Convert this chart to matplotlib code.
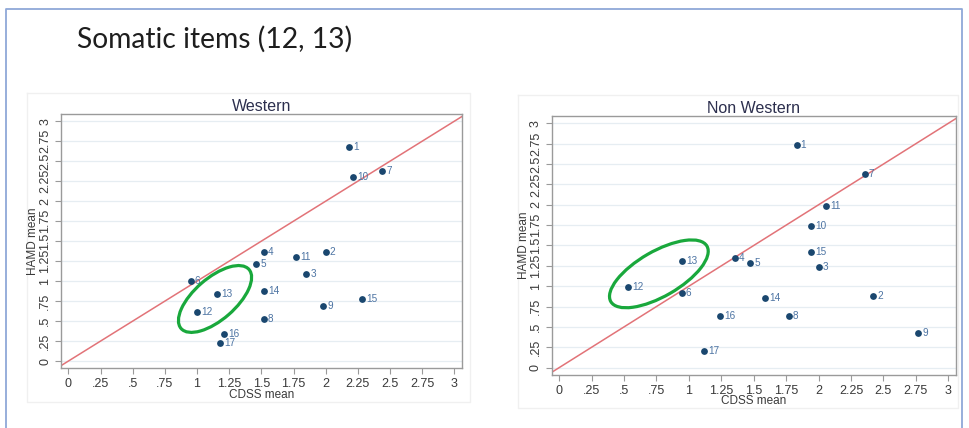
import matplotlib
matplotlib.use("Agg")
import matplotlib.pyplot as plt
from matplotlib.patches import Ellipse
from matplotlib.transforms import ScaledTranslation

# item numbers and mean scores
items = list(range(1, 18))
western_cdss = [2.18, 2.00, 1.85, 1.52, 1.46, 0.95, 2.44, 1.52, 1.98,
                2.21, 1.77, 1.00, 1.155, 1.52, 2.285, 1.21, 1.18]
western_hamd = [2.68, 1.36, 1.09, 1.36, 1.22, 1.00, 2.38, 0.53, 0.685,
                2.30, 1.30, 0.61, 0.84, 0.88, 0.78, 0.34, 0.23]
nonwest_cdss = [1.83, 2.42, 2.00, 1.355, 1.475, 0.945, 2.355, 1.77, 2.77,
                1.945, 2.06, 0.53, 0.945, 1.59, 1.945, 1.24, 1.12]
nonwest_hamd = [2.74, 0.88, 1.24, 1.35, 1.28, 0.92, 2.38, 0.63, 0.42,
                1.74, 1.99, 0.99, 1.315, 0.85, 1.42, 0.63, 0.205]

ticks = [0, 0.25, 0.5, 0.75, 1, 1.25, 1.5, 1.75, 2, 2.25, 2.5, 2.75, 3]
tick_labels = ["0", ".25", ".5", ".75", "1", "1.25", "1.5", "1.75",
               "2", "2.25", "2.5", "2.75", "3"]

NAVY = "#1a476f"
LABEL_C = "#4d74a3"
RED = "#e27378"
GREEN = "#19a83c"
GRID = "#e6edf2"
FRAME = "#9a9a9a"
TXT = "#3a3a3a"

plt.rcParams["font.family"] = ["Liberation Sans", "DejaVu Sans"]

W, H = 969, 428
fig = plt.figure(figsize=(W / 100, H / 100), dpi=100)

# slide background: border and heading
bg = fig.add_axes([0, 0, 1, 1])
bg.set_xlim(0, W)
bg.set_ylim(H, 0)
bg.axis("off")
bg.plot([6, 6, 962, 962], [H, 9, 9, H], color="#8fa8d8", lw=1.3)
bg.text(77, 39, "Somatic items (12, 13)", fontsize=20.3, family=["Lato", "DejaVu Sans"],
        color="#1e1e1e", ha="left", va="center")
# faint Stata graph-region boxes
bg.plot([27, 27, 470, 470, 27], [93, 402, 402, 93, 93], color="#f0f0f0", lw=1)
bg.plot([518, 518, 958, 958, 518], [95, 408, 408, 95, 95], color="#f0f0f0", lw=1)


def panel(rect, title, xs, ys, ell_center, ell_w, ell_h, ell_ang):
    ax = fig.add_axes(rect)
    ax.set_xlim(-0.057, 3.057)
    ax.set_ylim(-0.09, 3.09)
    ax.set_xticks(ticks)
    ax.set_xticklabels(tick_labels)
    ax.set_yticks(ticks)
    ax.set_yticklabels(tick_labels, rotation=90, va="center")
    ax.tick_params(axis="both", direction="out", length=4, width=0.8,
                   color=FRAME, labelcolor=TXT, labelsize=9, pad=3)
    ax.yaxis.grid(True, color=GRID, lw=0.9)
    ax.set_axisbelow(True)
    for sp in ax.spines.values():
        sp.set_color(FRAME)
        sp.set_linewidth(1.0)

    ax.plot([-0.2, 3.2], [-0.2, 3.2], color=RED, lw=1.1, zorder=2)
    ax.scatter(xs, ys, s=24, color=NAVY, zorder=3, linewidths=0)
    for n, x, y in zip(items, xs, ys):
        ax.annotate(str(n), (x, y), xytext=(3, 0), textcoords="offset points",
                    fontsize=7.2, color=LABEL_C, va="center", ha="left")

    # highlight ellipse drawn in screen units around items 12 and 13
    tr = fig.dpi_scale_trans + ScaledTranslation(*ell_center, ax.transData)
    ax.add_patch(Ellipse((0, 0), ell_w, ell_h, angle=ell_ang, transform=tr,
                         fill=False, edgecolor=GREEN, lw=2.3, zorder=4))

    ax.set_title(title, fontsize=11.5, color="#2c2f4e", pad=2)
    ax.set_xlabel("CDSS mean", fontsize=8.5, color=TXT, labelpad=-1)
    ax.set_ylabel("HAMD mean", fontsize=8.5, color=TXT, labelpad=0)
    return ax


panel([61 / W, 1 - 368.3 / H, 400.7 / W, 254.3 / H], "Western",
      western_cdss, western_hamd, (1.14, 0.777), 0.90, 0.415, 41)
panel([551.7 / W, 1 - 375 / H, 404 / W, 259 / H], "Non Western",
      nonwest_cdss, nonwest_hamd, (0.769, 1.152), 1.11, 0.45, 30)

fig.savefig("out.png", dpi=100)
